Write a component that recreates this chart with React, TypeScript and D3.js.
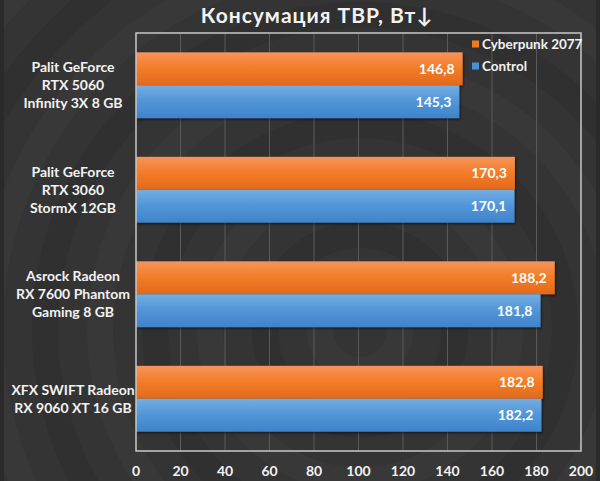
// @ts-nocheck
import * as d3 from "d3";
import React from "react";

const categories = [
  ["Palit GeForce", "RTX 5060", "Infinity 3X 8 GB"],
  ["Palit GeForce", "RTX 3060", "StormX 12GB"],
  ["Asrock Radeon", "RX 7600 Phantom", "Gaming 8 GB"],
  ["XFX SWIFT Radeon", "RX 9060 XT 16 GB"],
];
const seriesNames = ["Cyberpunk 2077", "Control"];
const cyberpunk = [146.8, 170.3, 188.2, 182.8];
const control = [145.3, 170.1, 181.8, 182.2];
const xTicks = [0, 20, 40, 60, 80, 100, 120, 140, 160, 180, 200];

const W = 600;
const H = 481;
const font = "Lato, 'Open Sans', sans-serif";

const App = () => {
  React.useEffect(() => {
    document.body.style.margin = "0";
  }, []);

  const left = 136, right = 581, top = 33, bottom = 451;
  const x = d3.scaleLinear([0, 200], [left, right]);
  const y = d3
    .scaleBand(d3.range(categories.length), [top, bottom])
    .paddingInner(0.37)
    .paddingOuter(0.185);
  const sub = d3.scaleBand([0, 1], [0, y.bandwidth()]);
  const series = [cyberpunk, control];
  const fills = ["url(#gOrange)", "url(#gBlue)"];
  const swatch = ["#f07a22", "#4a90d6"];
  const fmt = (v) => d3.format(".1f")(v).replace(".", ",");
  const rings = d3.range(12).map((i) => 40 + i * 55);

  return (
    <svg width={W} height={H} style={{ display: "block" }} fontFamily={font}>
      <defs>
        <linearGradient id="gOrange" x1="0" y1="0" x2="0" y2="1">
          <stop offset="0" stopColor="#f5945c" />
          <stop offset="0.45" stopColor="#f47e2a" />
          <stop offset="1" stopColor="#e2691a" />
        </linearGradient>
        <linearGradient id="gBlue" x1="0" y1="0" x2="0" y2="1">
          <stop offset="0" stopColor="#74aee2" />
          <stop offset="0.45" stopColor="#5397d9" />
          <stop offset="1" stopColor="#3f83c9" />
        </linearGradient>
        <filter id="sh" x="-5%" y="-20%" width="110%" height="150%">
          <feDropShadow dx="1" dy="1.5" stdDeviation="1" floodColor="#000" floodOpacity="0.55" />
        </filter>
      </defs>
      <rect width={W} height={H} fill="#343434" />
      {rings.map((r, i) => (
        <circle
          key={i}
          cx={360}
          cy={330}
          r={r}
          fill="none"
          stroke={i % 2 ? "#303030" : "#383838"}
          strokeWidth={26}
        />
      ))}
      <rect x={0} y={0} width={4} height={H} fill="#2a2a2a" />
      <rect x={W - 4} y={0} width={4} height={H} fill="#2a2a2a" />

      <text
        x={317}
        y={23}
        fill="#f2f2f2"
        fontSize={21}
        fontWeight="bold"
        letterSpacing={1}
        textAnchor="middle"
      >
        Консумация TBP, Вт↓
      </text>

      <g stroke="#5a5a5a" strokeWidth={1}>
        {xTicks.slice(1, -1).map((t) => (
          <line key={t} x1={x(t)} x2={x(t)} y1={top} y2={bottom} />
        ))}
      </g>

      {series.map((vals, s) => (
        <g key={s}>
          {vals.map((v, i) => (
            <g key={i}>
              <rect
                x={x(0)}
                y={y(i) + sub(s)}
                width={x(v) - x(0)}
                height={sub.bandwidth()}
                fill={fills[s]}
                filter="url(#sh)"
              />
              <text
                x={x(v) - 8}
                y={y(i) + sub(s) + sub.bandwidth() / 2}
                dy="0.36em"
                fill="#ffffff"
                fontSize={14}
                fontWeight="bold"
                textAnchor="end"
              >
                {fmt(v)}
              </text>
            </g>
          ))}
        </g>
      ))}

      <rect
        x={left}
        y={top}
        width={right - left}
        height={bottom - top}
        fill="none"
        stroke="#c8c8c8"
        strokeWidth={1.5}
      />

      {categories.map((lines, i) => (
        <text
          key={i}
          x={73}
          fill="#f2f2f2"
          fontSize={14}
          fontWeight="bold"
          textAnchor="middle"
        >
          {lines.map((l, j) => (
            <tspan
              key={j}
              x={73}
              y={y(i) + y.bandwidth() / 2 + (j - (lines.length - 1) / 2) * 18}
              dy="0.36em"
            >
              {l}
            </tspan>
          ))}
        </text>
      ))}

      {xTicks.map((t) => (
        <text
          key={t}
          x={x(t)}
          y={471}
          dy="0.36em"
          fill="#f2f2f2"
          fontSize={14}
          fontWeight="bold"
          textAnchor="middle"
        >
          {t}
        </text>
      ))}

      {seriesNames.map((n, i) => (
        <g key={n} transform={`translate(472,${44 + i * 22})`}>
          <rect x={0} y={-3.5} width={7} height={7} fill={swatch[i]} />
          <text x={10} y={0} dy="0.36em" fill="#f2f2f2" fontSize={13.5} fontWeight="bold">
            {n}
          </text>
        </g>
      ))}
    </svg>
  );
};

export default App;
